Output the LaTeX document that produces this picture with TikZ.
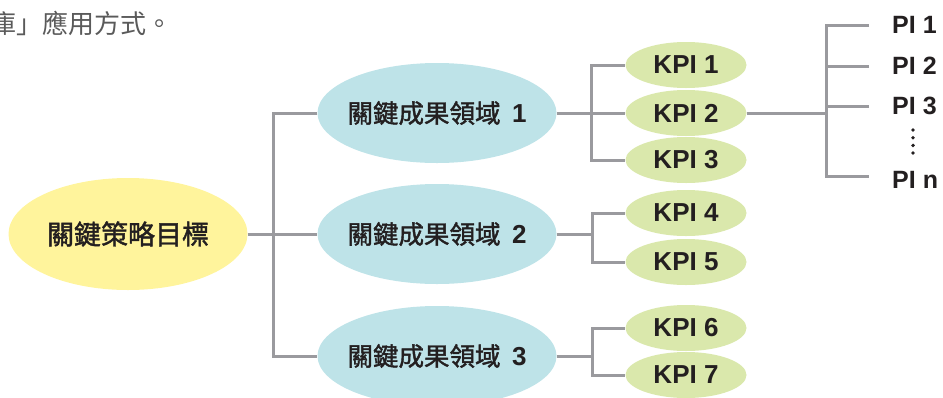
\documentclass[tikz,border=0pt]{standalone}
\usepackage{fontspec}
\setmainfont{Liberation Sans}
\newfontfamily\cjk{Noto Sans CJK TC}
\newfontfamily\cjkmed[FakeBold=1.6]{Noto Sans CJK TC}
\usetikzlibrary{shapes.geometric}
\definecolor{goalyellow}{RGB}{255,244,156}
\definecolor{krablue}{RGB}{190,227,232}
\definecolor{kpigreen}{RGB}{218,232,172}
\definecolor{linegray}{RGB}{154,154,158}
\definecolor{textdark}{RGB}{35,31,32}
\definecolor{textgray}{RGB}{90,90,90}
\newcommand{\kranum}[1]{\makebox[0pt]{\cjkmed 關鍵成果領域\hspace{0.45em}{\normalfont\bfseries\fontsize{26}{26}\selectfont #1}}}
\begin{document}
\begin{tikzpicture}[x=1pt,y=-1pt,
  goal/.style={ellipse, fill=goalyellow, minimum width=239pt, minimum height=112pt, inner sep=0pt,
    text=textdark, font=\cjkmed\fontsize{27}{27}\selectfont},
  kra/.style={ellipse, fill=krablue, minimum width=239pt, minimum height=100pt, inner sep=0pt,
    text=textdark, font=\cjkmed\fontsize{25.5}{25.5}\selectfont},
  kpi/.style={ellipse, fill=kpigreen, minimum width=121pt, minimum height=46pt, inner sep=0pt,
    text=textdark, font=\bfseries\fontsize{26}{26}\selectfont},
  pilabel/.style={anchor=west, inner sep=0pt, text=textdark, font=\bfseries\fontsize{25}{25}\selectfont},
  link/.style={draw=linegray, line width=3pt},
  dotmark/.style={fill=textdark, draw=none}
]
\useasboundingbox (0,0) rectangle (943,397);
\clip (0,0) rectangle (943,397);

% caption fragment at top left
\node[anchor=west, inner sep=0pt, text=textgray, font=\cjk\fontsize{26}{26}\selectfont] (cap) at (-10,23.5) {庫」應用方式。};

% nodes
\node[goal] (goal) at (128,234) {關鍵策略目標};
\node[kra] (kra1) at (437,113) {\kranum{1}};
\node[kra] (kra2) at (437,234) {\kranum{2}};
\node[kra] (kra3) at (437,356) {\kranum{3}};

\node[kpi] (kpi1) at (686,65) {KPI 1};
\node[kpi] (kpi2) at (686,113) {KPI 2};
\node[kpi] (kpi3) at (686,160) {KPI 3};
\node[kpi] (kpi4) at (686,213) {KPI 4};
\node[kpi] (kpi5) at (686,262) {KPI 5};
\node[kpi] (kpi6) at (686,328) {KPI 6};
\node[kpi] (kpi7) at (686,375) {KPI 7};

\node[pilabel] (pi1) at (892,25) {PI 1};
\node[pilabel] (pi2) at (892,66) {PI 2};
\node[pilabel] (pi3) at (892,106) {PI 3};
\node[pilabel] (pin) at (892,180) {PI n};

% junction coordinates
\coordinate (b0) at (273,234);
\coordinate (c1) at (591,113);
\coordinate (c2) at (592,236);
\coordinate (c3) at (592,356);
\coordinate (p0) at (826,113);
\coordinate (e1) at (869,25);
\coordinate (e2) at (869,66);
\coordinate (e3) at (869,106);
\coordinate (en) at (869,176);

% connectors
\draw[link] (goal.east) -- (kra2.west);
\draw[link] (kra1.west) -| (b0) |- (kra3.west);

\draw[link] (kra1.east) -- (kpi2.west);
\draw[link] (kpi1.west) -| (c1) |- (kpi3.west);

\draw[link] (kra2.east) -- (kra2.east -| c2);
\draw[link] (kpi4.west) -| (c2) |- (kpi5.west);

\draw[link] (kra3.east) -- (c3);
\draw[link] (kpi6.west) -| (c3) |- (kpi7.west);

\draw[link] (kpi2.east) -- (p0);
\draw[link] (e1) -| (p0) |- (en);
\draw[link] (e2) -- (e2 -| p0);
\draw[link] (e3) -- (e3 -| p0);

% vertical ellipsis
\foreach \yy/\nm in {130/d1,137.7/d2,145.4/d3,153/d4}
  \fill[dotmark] (913,\yy) circle (1.9pt) coordinate (\nm);
\end{tikzpicture}
\end{document}
